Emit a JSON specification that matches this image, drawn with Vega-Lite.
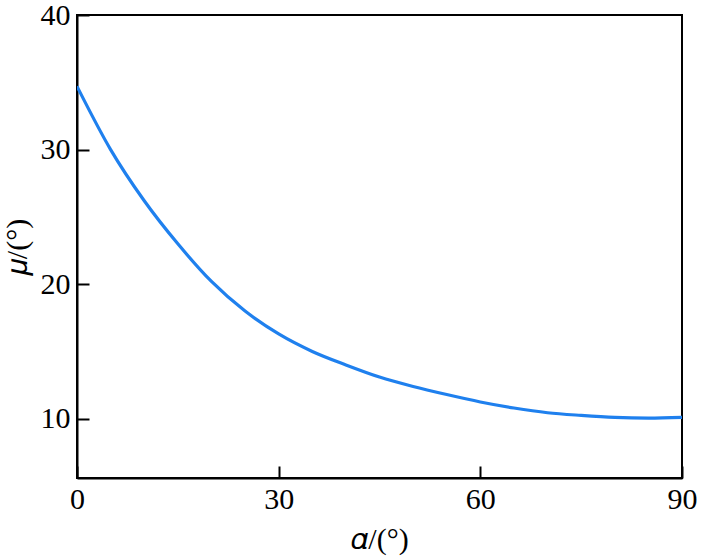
{
  "$schema": "https://vega.github.io/schema/vega-lite/v6.json",
  "width": 605,
  "height": 463,
  "autosize": "none",
  "padding": {"left": 77, "top": 15, "right": 19, "bottom": 82},
  "background": "white",
  "config": {
    "view": {"stroke": "black", "strokeWidth": 2},
    "font": "Liberation Serif",
    "axis": {
      "domainColor": "black",
      "domainWidth": 2,
      "tickColor": "black",
      "tickWidth": 2,
      "tickSize": -12,
      "grid": false,
      "labelFont": "Liberation Serif",
      "labelFontSize": 30,
      "labelColor": "black",
      "labelFontWeight": "normal",
      "titleFont": "Liberation Serif",
      "titleFontSize": 30,
      "titleColor": "black",
      "titleFontWeight": "normal"
    }
  },
  "data": {
    "values": [
      {"alpha": 0, "mu": 34.7},
      {"alpha": 5, "mu": 30.0},
      {"alpha": 10, "mu": 26.2},
      {"alpha": 15, "mu": 23.0},
      {"alpha": 20, "mu": 20.2},
      {"alpha": 25, "mu": 18.0},
      {"alpha": 30, "mu": 16.3},
      {"alpha": 35, "mu": 15.0},
      {"alpha": 40, "mu": 14.0},
      {"alpha": 45, "mu": 13.1},
      {"alpha": 50, "mu": 12.4},
      {"alpha": 55, "mu": 11.8},
      {"alpha": 60, "mu": 11.25},
      {"alpha": 65, "mu": 10.8},
      {"alpha": 70, "mu": 10.45},
      {"alpha": 75, "mu": 10.25},
      {"alpha": 80, "mu": 10.1},
      {"alpha": 85, "mu": 10.05},
      {"alpha": 90, "mu": 10.1}
    ]
  },
  "mark": {"type": "line", "color": "#1f80ee", "strokeWidth": 3.2, "interpolate": "monotone", "clip": true},
  "encoding": {
    "x": {
      "field": "alpha",
      "type": "quantitative",
      "scale": {"domain": [0, 90], "nice": false},
      "axis": {"values": [0, 30, 60, 90], "title": "𝛼/(°)", "labelPadding": 18, "titlePadding": 10, "labelFlush": false}
    },
    "y": {
      "field": "mu",
      "type": "quantitative",
      "scale": {"domain": [5.6, 40], "nice": false, "zero": false},
      "axis": {
        "values": [10, 20, 30, 40],
        "title": "𝜇/(°)",
        "labelPadding": 19,
        "labelFlush": false,
        "titleX": -60,
        "titleY": 232,
        "titleAngle": -90,
        "titleAlign": "center",
        "titleBaseline": "middle"
      }
    }
  }
}
